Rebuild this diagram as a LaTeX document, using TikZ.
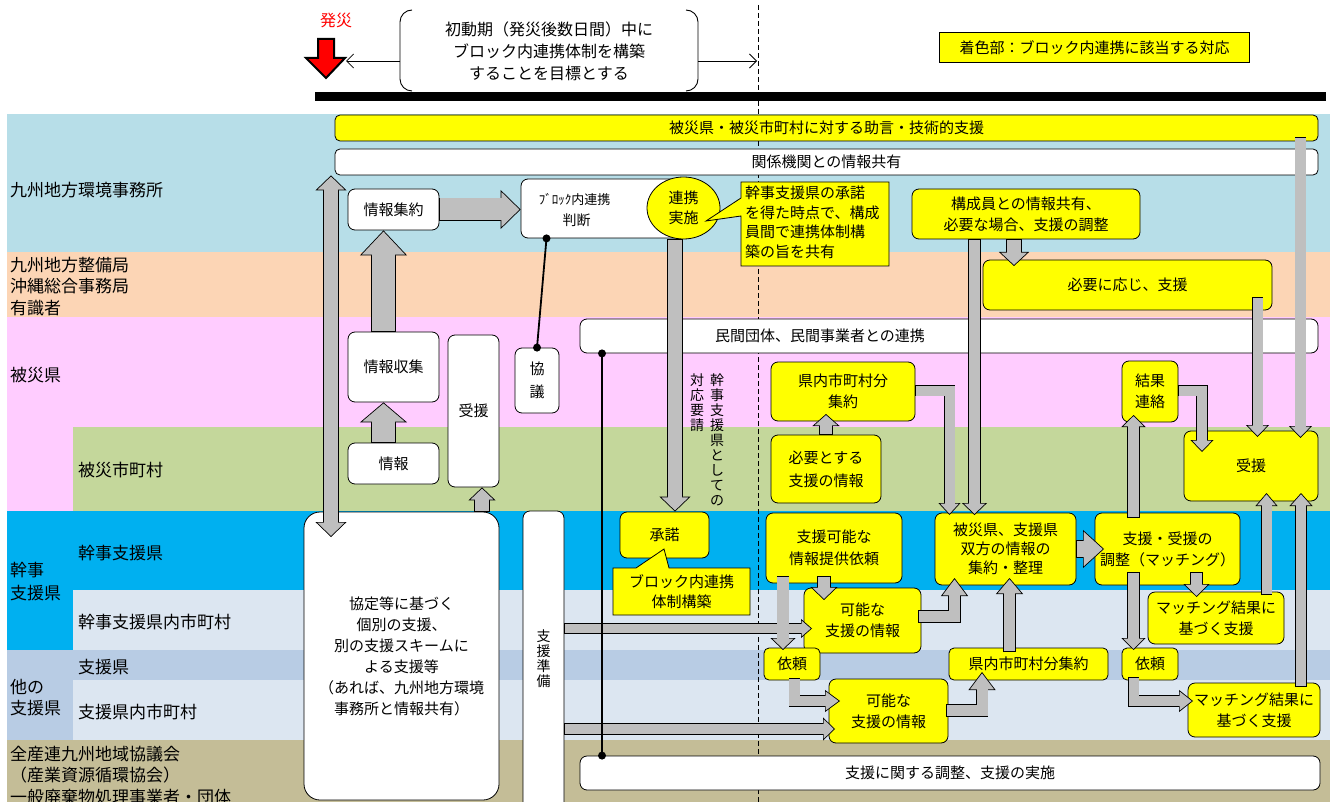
\documentclass[tikz,border=0pt]{standalone}
\usepackage{fontspec}
\setmainfont{Noto Sans CJK JP}
\usetikzlibrary{arrows.meta,shapes.geometric}
\definecolor{bandA}{HTML}{B7DEE8}
\definecolor{bandB}{HTML}{FCD5B5}
\definecolor{bandC}{HTML}{FFCCFF}
\definecolor{bandD}{HTML}{C4D79B}
\definecolor{bandE}{HTML}{00B0F0}
\definecolor{bandF}{HTML}{DCE6F1}
\definecolor{bandG}{HTML}{B8CCE4}
\definecolor{bandH}{HTML}{C4BD97}
\definecolor{yfill}{HTML}{FFFF00}
\definecolor{agray}{HTML}{BFBFBF}
\newcommand\fs[2]{\fontsize{#1}{#2}\selectfont}
% block arrow: shaft width, head width, head length, path
\newcommand\garr[4]{%
  \pgfmathsetmacro\gaO{#1+1.4}\pgfmathsetmacro\gaS{#3-1.5}%
  \draw[line width=\gaO pt, black, line join=miter, -{Triangle[length=#3pt, width=#2pt, line width=0.7pt, fill=agray]}] #4;
  \draw[line width=#1pt, agray, line join=miter, shorten >=\gaS pt, shorten <=0.7pt] #4;
}
\newcommand\garrd[4]{%
  \pgfmathsetmacro\gaO{#1+1.4}\pgfmathsetmacro\gaS{#3-1.5}%
  \draw[line width=\gaO pt, black, {Triangle[length=#3pt, width=#2pt, line width=0.7pt, fill=agray]}-{Triangle[length=#3pt, width=#2pt, line width=0.7pt, fill=agray]}] #4;
  \draw[line width=#1pt, agray, shorten >=\gaS pt, shorten <=\gaS pt] #4;
}
\tikzset{
  bx/.style={draw=black, line width=0.8pt, rounded corners=7pt, inner sep=0pt, align=center, font=\fs{15}{21}},
  wbox/.style={bx, fill=white},
  ybox/.style={bx, fill=yfill},
  lbl/.style={anchor=west, inner sep=0pt, align=left, font=\fs{17}{22}},
  txt/.style={inner sep=0pt, align=center, font=\fs{15}{21}},
  thinarr/.style={line width=0.8pt, -{Straight Barb[length=7pt,width=14pt]}},
  blk/.style={line width=1.8pt, black},
  callout/.style={fill=yfill, draw=black, line width=0.8pt, line join=miter},
}
\begin{document}
\begin{tikzpicture}[x=1pt,y=-1pt]
\useasboundingbox (0,0) rectangle (1330,802);
\fill[white] (0,0) rectangle (1330,802);
% ---------- bands
\fill[bandA] (7,114) rectangle (1330,252);
\fill[bandB] (7,252) rectangle (1330,317);
\fill[bandC] (7,317) rectangle (1330,427);
\fill[bandC] (7,427) rectangle (73,511);
\fill[bandD] (73,427) rectangle (1330,511);
\fill[bandE] (7,511) rectangle (1330,590);
\fill[bandE] (7,590) rectangle (73,650);
\fill[bandF] (73,590) rectangle (1330,650);
\fill[bandG] (7,650) rectangle (1330,680);
\fill[bandG] (7,680) rectangle (73,740);
\fill[bandF] (73,680) rectangle (1330,740);
\fill[bandH] (7,740) rectangle (1330,802);
% ---------- band labels
\node[lbl] (l1) at (10,190) {九州地方環境事務所};
\node[lbl, font=\fs{17}{21.5}] (l2) at (10,286.5) {九州地方整備局\\沖縄総合事務局\\有識者};
\node[lbl] (l3) at (10,375) {被災県};
\node[lbl] (l4) at (78,470) {被災市町村};
\node[lbl, font=\fs{17}{23}] (l5) at (10,581.5) {幹事\\支援県};
\node[lbl] (l6) at (78,553) {幹事支援県};
\node[lbl] (l7) at (78,622) {幹事支援県内市町村};
\node[lbl] (l8) at (78,667) {支援県};
\node[lbl, font=\fs{17}{21}] (l9) at (10,697.5) {他の\\支援県};
\node[lbl] (l10) at (78,712) {支援県内市町村};
\node[lbl, font=\fs{17}{21.5}] (l11) at (10,775.5) {全産連九州地域協議会\\（産業資源循環協会）\\一般廃棄物処理事業者・団体};
% ---------- top
\draw[line width=0.8pt, dash pattern=on 5pt off 3pt] (758,5) -- (758,802);
\node[txt, text=red, font=\fs{16}{18}] (hassai) at (336,20) {発災};
\filldraw[fill=red, draw=black, line width=2pt, line join=miter] (318,39) -- (334,39) -- (334,58) -- (345,58) -- (326,78) -- (306,58) -- (318,58) -- cycle;
\draw[line width=0.9pt, rounded corners=12pt] (412,10) -- (400,10) -- (400,91) -- (412,91);
\draw[line width=0.9pt, rounded corners=12pt] (686,10) -- (698,10) -- (698,91) -- (686,91);
\node[txt, font=\fs{16}{22}] (goal) at (549,51) {初動期（発災後数日間）中に\\ブロック内連携体制を構築\\することを目標とする};
\coordinate (bkL) at (400,61);
\coordinate (bkLt) at (346,61);
\coordinate (bkR) at (698,61);
\coordinate (bkRt) at (757,61);
\draw[thinarr] (bkL) -- (bkLt);
\draw[thinarr] (bkR) -- (bkRt);
\fill[black] (315,92) rectangle (1326,101);
\node[draw=black, fill=yfill, line width=1pt, minimum width=310, minimum height=30, inner sep=0pt, font=\fs{15}{18}] (legend) at (1094.5,47.5) {着色部：ブロック内連携に該当する対応};
% ---------- boxes
\node[ybox, rounded corners=5pt, minimum width=983, minimum height=26] (jogen) at (826.5,128) {被災県・被災市町村に対する助言・技術的支援};
\node[wbox, rounded corners=5pt, minimum width=983, minimum height=26] (kankei) at (826.5,162) {関係機関との情報共有};
\node[wbox, minimum width=91, minimum height=41] (shuuyaku) at (393.5,209.5) {情報集約};
\node[wbox, minimum width=169, minimum height=59] (handan) at (605.5,208.5) {};
\node[txt, font=\fs{13}{15}] (handan1) at (574.5,199) {ﾌﾞﾛｯｸ内連携};
\node[txt, font=\fs{14}{15}] (handan2) at (576.5,220) {判断};
\node[ellipse, draw=black, line width=0.8pt, fill=yfill, minimum width=73, minimum height=62, inner sep=0pt, align=center, font=\fs{15}{20}] (renkei) at (683.5,208) {連携\\実施};
\filldraw[callout] (741,182) -- (889,182) -- (889,266) -- (741,266) -- (741,216) -- (706,221) -- (741,198) -- cycle;
\node[txt, anchor=west, align=left, font=\fs{15}{19.5}] (cal1) at (745,222.5) {幹事支援県の承諾\\を得た時点で、構成\\員間で連携体制構\\築の旨を共有};
\node[ybox, minimum width=228, minimum height=50] (koseiin) at (1026,214) {構成員との情報共有、\\必要な場合、支援の調整};
\node[ybox, minimum width=289, minimum height=50] (hitsuyou) at (1127.5,285) {必要に応じ、支援};
\node[wbox, minimum width=91, minimum height=70] (shushu) at (393.5,367) {情報収集};
\node[wbox, minimum width=91, minimum height=41] (joho) at (393.5,463.5) {情報};
\node[wbox, minimum width=51, minimum height=152] (juen1) at (473.5,411) {受援};
\node[wbox, minimum width=44, minimum height=65, font=\fs{15}{23}] (kyogi) at (537,380.5) {協\\議};
\node[wbox, minimum width=738, minimum height=34] (minkan) at (949,336) {};
\node[txt] (minkant) at (820,336) {民間団体、民間事業者との連携};
\node[ybox, minimum width=144, minimum height=59] (kennai1) at (843,391.5) {県内市町村分\\集約};
\node[ybox, minimum width=110, minimum height=68, font=\fs{15}{23}] (hitsuyo2) at (826,469) {必要とする\\支援の情報};
\node[ybox, minimum width=56, minimum height=61] (kekka) at (1150,391.5) {結果\\連絡};
\node[ybox, minimum width=134, minimum height=70] (juen2) at (1251,466) {受援};
\node[txt, font=\fs{14}{15}, anchor=north] (vt1) at (717,374) {幹\\事\\支\\援\\県\\と\\し\\て\\の};
\node[txt, font=\fs{14}{15}, anchor=north] (vt2) at (697,374) {対\\応\\要\\請};
\node[wbox, rounded corners=16pt, minimum width=195, minimum height=288] (kyotei) at (401.5,656) {協定等に基づく\\個別の支援、\\別の支援スキームに\\よる支援等\\（あれば、九州地方環境\\事務所と情報共有）};
\node[wbox, minimum width=41, minimum height=310] (junbi) at (543.5,666) {};
\node[txt, font=\fs{14}{15}, anchor=north] (junbit) at (543.5,630) {支\\援\\準\\備};
\node[ybox, minimum width=89, minimum height=46] (shodaku) at (664.5,535) {承諾};
\filldraw[callout] (613,568) -- (636,568) -- (664,549) -- (669,568) -- (750,568) -- (750,615) -- (613,615) -- cycle;
\node[txt, font=\fs{15}{20}] (cal2) at (681.5,592) {ブロック内連携\\体制構築};
\node[ybox, minimum width=136, minimum height=70, font=\fs{15}{22}] (shienkano) at (834,548) {支援可能な\\情報提供依頼};
\node[ybox, minimum width=141, minimum height=72, font=\fs{15}{19}] (hisai) at (1005.5,549) {被災県、支援県\\双方の情報の\\集約・整理};
\node[ybox, minimum width=145, minimum height=72] (chosei) at (1167.5,549) {支援・受援の\\調整（マッチング）};
\node[ybox, minimum width=117, minimum height=65] (kanou1) at (862.5,620.5) {可能な\\支援の情報};
\node[ybox, minimum width=136, minimum height=52] (match1) at (1216,618) {マッチング結果に\\基づく支援};
\node[ybox, rounded corners=5pt, minimum width=56, minimum height=32] (irai1) at (792,664) {依頼};
\node[ybox, rounded corners=5pt, minimum width=159, minimum height=32] (kennai2) at (1028.5,664) {県内市町村分集約};
\node[ybox, rounded corners=5pt, minimum width=56, minimum height=32] (irai2) at (1150,664) {依頼};
\node[ybox, minimum width=119, minimum height=64] (kanou2) at (888.5,711) {可能な\\支援の情報};
\node[ybox, minimum width=132, minimum height=54] (match2) at (1254,710) {マッチング結果に\\基づく支援};
\node[wbox, minimum width=740, minimum height=34] (bottom) at (950,773) {支援に関する調整、支援の実施};
% ---------- block arrows
\garr{22}{39}{20}{(shuuyaku.east) -- (handan.west |- shuuyaku.east)}
\garr{23}{47}{25}{(383.5,0 |- shushu.north) -- (383.5,0 |- shuuyaku.south)}
\garr{23}{47}{20}{(383.5,0 |- joho.north) -- (383.5,0 |- shushu.south)}
\garr{14}{27}{13}{(482,0 |- kyotei.north) -- (482,0 |- juen1.south)}
\garrd{14}{31}{15}{(331,0 |- kankei.south) -- (331,537)}
\garr{14}{31}{15}{(675,0 |- renkei.south) -- (675,0 |- shodaku.north)}
\garr{14}{30}{14}{(1014,0 |- koseiin.south) -- (1014,266)}
\garr{11}{25}{12}{(974.5,0 |- koseiin.south) -- (974.5,515)}
\garr{10}{22}{12}{(kennai1.east |- 0,390.5) -- (949.5,390.5) -- (949.5,515)}
\garr{12}{27}{12}{(826,0 |- hitsuyo2.north) -- (826,414)}
\garr{10}{23}{12}{(kekka.east |- 0,390.5) -- (1202,390.5) -- (1202,452)}
\garr{11}{24}{12}{(1133.5,518) -- (1133.5,415)}
\garr{10}{23}{12}{(1257.5,297) -- (1257.5,437)}
\garr{10.5}{23}{12}{(1300.5,137) -- (1300.5,438)}
\garr{10}{22}{13}{(1266.5,595) -- (1266.5,493)}
\garr{10}{23}{13}{(1301,687) -- (1301,493)}
\garr{16}{38}{21}{(hisai.east) -- (1104,549)}
\garr{11}{26}{13}{(1196.5,572) -- (1196.5,597)}
\garr{11}{24}{12}{(1133.5,572) -- (1133.5,650)}
\garr{10}{22}{14}{(1133.5,677) -- (1133.5,701) -- (1193,701)}
\garr{9.5}{19}{11}{(junbi.east |- 0,628.5) -- (812,628.5)}
\garr{10}{23}{12}{(junbi.east |- 0,729) -- (835,729)}
\garr{11.5}{25}{12}{(783,576) -- (783,650)}
\garr{12}{27}{13}{(824,576) -- (824,600)}
\garr{11}{27}{18}{(918,616.5) -- (954.5,616.5) -- (954.5,578)}
\garr{11}{27}{16}{(1009.5,652) -- (1009.5,578)}
\garr{10.5}{22}{15}{(794.5,678) -- (794.5,701) -- (840,701)}
\garr{11}{27}{18}{(946,710.5) -- (982,710.5) -- (982,672)}
% ---------- black links
\draw[blk] (546.5,0 |- handan.south) -- (kyogi.north);
\fill (546.5,0 |- handan.south) circle (4pt);
\fill (kyogi.north) circle (4pt);
\draw[blk] (602,0 |- minkan.south) -- (602,0 |- bottom.north);
\fill (602,0 |- minkan.south) circle (4pt);
\fill (602,0 |- bottom.north) circle (4pt);
\end{tikzpicture}
\end{document}
